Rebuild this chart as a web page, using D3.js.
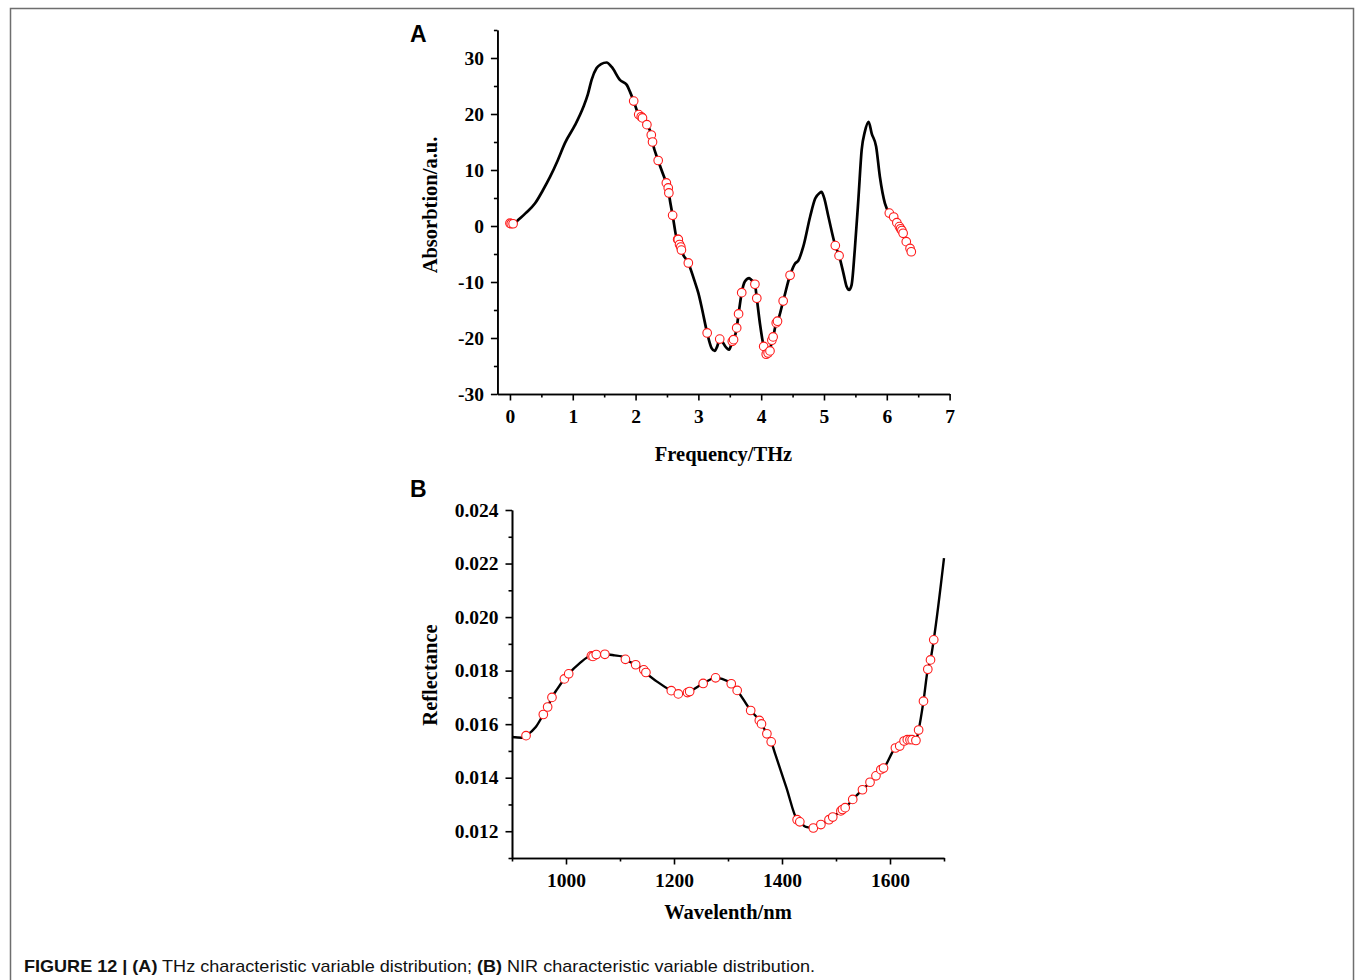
<!DOCTYPE html>
<html>
<head>
<meta charset="utf-8">
<script src="https://cdn.jsdelivr.net/npm/d3@7"></script>
<style>
  body { margin: 0; background: #fff; }
  svg { display: block; }
  .tick text { font-family: "Liberation Serif", "Times New Roman", serif; font-weight: bold; font-size: 19.5px; fill: #000; }
  .domain, .tick line { stroke: #000; stroke-width: 1.6px; }
  .title { font-family: "Liberation Serif", "Times New Roman", serif; font-weight: bold; font-size: 20.5px; }
  .letter { font-family: "Liberation Sans", Arial, sans-serif; font-weight: bold; font-size: 23px; }
</style>
</head>
<body>
<script>
// THz curve (A), without the selected points
var thzFreq = [0.06, 0.13, 0.25, 0.40, 0.52, 0.64, 0.76, 0.875, 1.035, 1.17, 1.24, 1.30, 1.38, 1.45, 1.54, 1.62, 1.75, 1.86, 1.91,
  2.95, 3.0, 3.06, 3.21, 3.26, 3.30, 3.45, 3.49, 3.74, 3.81, 3.84, 3.98,
  4.54, 4.59, 4.67, 4.78, 4.86, 4.93, 4.96, 5.0, 5.07, 5.31, 5.36, 5.40, 5.44, 5.49, 5.55, 5.60, 5.65, 5.71, 5.76, 5.83, 5.89, 5.97, 6.40];
var thzAbs = [0.35, 1.07, 2.3, 4.05, 6.3, 8.8, 11.7, 14.8, 18.0, 21.3, 23.5, 26.1, 28.2, 28.9, 29.2, 28.4, 26.1, 25.2, 24.0,
  -10.2, -12.0, -14.9, -21.8, -22.3, -21.5, -21.8, -22.1, -9.9, -9.3, -9.6, -17.4,
  -6.7, -6.2, -3.7, 1.7, 4.9, 5.9, 6.1, 5.1, 1.7, -8.45, -10.8, -11.4, -10.5, -4.3, 5.2, 13.6, 16.8, 18.6, 16.5, 14.2, 8.8, 4.05, -4.8];

// THz characteristic variables (red circles)
var thzSelFreq = [0.00, 0.02, 0.05, 1.97, 2.05, 2.09, 2.11, 2.18, 2.25, 2.27, 2.36, 2.49, 2.52, 2.53, 2.59, 2.67, 2.68, 2.70, 2.72, 2.73, 2.84,
  3.14, 3.34, 3.54, 3.56, 3.61, 3.64, 3.69, 3.90, 3.93, 4.04, 4.08, 4.11, 4.14, 4.17, 4.19, 4.24, 4.26, 4.35, 4.46,
  5.18, 5.24, 6.04, 6.11, 6.16, 6.20, 6.22, 6.24, 6.26, 6.31, 6.37, 6.39];
var thzSelAbs = [0.5, 0.4, 0.4, 22.3, 19.9, 19.5, 19.3, 18.1, 16.25, 15.0, 11.7, 7.7, 6.8, 5.9, 1.9, -2.4, -2.4, -3.3, -3.75, -4.3, -6.6,
  -19.1, -20.2, -20.6, -20.3, -18.2, -15.7, -11.9, -10.4, -12.9, -21.5, -22.9, -22.7, -22.3, -20.4, -19.8, -17.3, -17.0, -13.4, -8.8,
  -3.5, -5.3, 2.3, 1.6, 0.6, -0.1, -0.5, -0.8, -1.3, -2.8, -4.0, -4.6];

// NIR curve (B)
var nirWave = [900, 918, 944, 984, 1024, 1090, 1103, 1170, 1289, 1388, 1408, 1444, 1700];
var nirRefl = [0.01552, 0.01549, 0.01589, 0.01732, 0.01825, 0.01857, 0.01853, 0.01757, 0.01769, 0.01485, 0.01364, 0.01216, 0.0222];

// NIR characteristic variables
var nirSelWave = [926, 958, 966, 974, 997, 1005, 1047, 1050, 1056, 1072, 1110, 1129, 1144, 1148, 1195, 1208, 1225, 1229, 1254, 1277,
  1306, 1317, 1342, 1358, 1362, 1372, 1380, 1428, 1433, 1458, 1472, 1487, 1494, 1509, 1512, 1517, 1531, 1549, 1563, 1574,
  1583, 1588, 1610, 1618, 1626, 1632, 1637, 1641, 1648, 1653, 1662, 1670, 1675, 1681];
var nirSelRefl = [0.01557, 0.01636, 0.01664, 0.0170, 0.01769, 0.01788, 0.01855, 0.01853, 0.0186, 0.01861, 0.01842, 0.01822, 0.01803, 0.01793,
  0.01725, 0.01713, 0.01718, 0.01722, 0.01752, 0.01773, 0.01751, 0.01726, 0.01651, 0.01614, 0.01601, 0.01564, 0.01534,
  0.01243, 0.01235, 0.01212, 0.01225, 0.01243, 0.01253, 0.01276, 0.01281, 0.01288, 0.01319, 0.01355, 0.01383, 0.01407,
  0.0143, 0.01436, 0.01511, 0.01518, 0.01537, 0.01542, 0.01542, 0.01542, 0.01539, 0.01578, 0.01686, 0.01805, 0.0184, 0.01915];

var thzMajor = [0, 1, 2, 3, 4, 5, 6, 7], thzMinor = [0.5, 1.5, 2.5, 3.5, 4.5, 5.5, 6.5];
var absMajor = [-30, -20, -10, 0, 10, 20, 30], absMinor = [-25, -15, -5, 5, 15, 25, 35];
var nirMajor = [1000, 1200, 1400, 1600], nirMinor = [900, 1100, 1300, 1500, 1700];
var reflMajor = [0.012, 0.014, 0.016, 0.018, 0.020, 0.022, 0.024];
var reflMinor = [0.011, 0.013, 0.015, 0.017, 0.019, 0.021, 0.023];

var svg = d3.select("body").append("svg")
    .attr("width", 1355)
    .attr("height", 980);

// figure frame
svg.append("rect")
    .attr("x", 10.5).attr("y", 8.5)
    .attr("width", 1343).attr("height", 990)
    .attr("fill", "none")
    .attr("stroke", "#6e6e6e")
    .attr("stroke-width", 1.5);

function zip(xs, ys) {
    return xs.map(function(x, i) { return {x: x, y: ys[i]}; });
}

// plain hyphen for negatives, like the original
function intFmt(d) { return String(d); }
function refFmt(d) { return d.toFixed(3); }

function panel(o) {
    var x = d3.scaleLinear().domain(o.xDomain).range([o.left, o.right]);
    var y = d3.scaleLinear().domain(o.yDomain).range([o.bottom, o.top]);

    // minor ticks first, then the major axis on top
    svg.append("g").attr("transform", "translate(0," + o.bottom + ")")
        .call(d3.axisBottom(x).tickValues(o.xMinor).tickSize(3.5).tickSizeOuter(0).tickFormat(""));
    svg.append("g").attr("transform", "translate(" + o.left + ",0)")
        .call(d3.axisLeft(y).tickValues(o.yMinor).tickSize(3.5).tickSizeOuter(0).tickFormat(""));

    svg.append("g").attr("transform", "translate(0," + o.bottom + ")")
        .call(d3.axisBottom(x).tickValues(o.xMajor).tickSize(6.5).tickSizeOuter(0).tickPadding(9).tickFormat(o.xFormat));
    svg.append("g").attr("transform", "translate(" + o.left + ",0)")
        .call(d3.axisLeft(y).tickValues(o.yMajor).tickSize(6.5).tickSizeOuter(0).tickPadding(7).tickFormat(o.yFormat));

    // curve plus the selected points, sorted along x
    var pts = zip(o.cx, o.cy).concat(zip(o.sx, o.sy))
        .sort(function(a, b) { return a.x - b.x; });
    var line = d3.line()
        .x(function(d) { return x(d.x); })
        .y(function(d) { return y(d.y); })
        .curve(d3.curveMonotoneX);
    svg.append("path")
        .datum(pts)
        .attr("d", line)
        .attr("fill", "none")
        .attr("stroke", "#000")
        .attr("stroke-width", o.lw)
        .attr("stroke-linejoin", "round");

    svg.append("g").selectAll("circle")
        .data(zip(o.sx, o.sy))
        .enter()
        .append("circle")
        .attr("cx", function(d) { return x(d.x); })
        .attr("cy", function(d) { return y(d.y); })
        .attr("r", 4.3)
        .attr("fill", "#fff")
        .attr("stroke", "#ff1a1a")
        .attr("stroke-width", 1.1);

    svg.append("text").attr("class", "title")
        .attr("x", (o.left + o.right) / 2).attr("y", o.xTitleY)
        .attr("text-anchor", "middle")
        .text(o.xTitle);
    svg.append("text").attr("class", "title")
        .attr("transform", "translate(437," + o.yTitleY + ") rotate(-90)")
        .attr("text-anchor", "middle")
        .text(o.yTitle);
    svg.append("text").attr("class", "letter")
        .attr("x", 410).attr("y", o.letterY)
        .text(o.letter);
}

panel({
    xDomain: [-0.2, 7], yDomain: [-30, 35],
    left: 497.4, right: 949.6, top: 30, bottom: 394,
    xMajor: thzMajor, xMinor: thzMinor, yMajor: absMajor, yMinor: absMinor,
    xFormat: intFmt, yFormat: intFmt,
    cx: thzFreq, cy: thzAbs, sx: thzSelFreq, sy: thzSelAbs, lw: 2.7,
    xTitle: "Frequency/THz", xTitleY: 461, yTitle: "Absorbtion/a.u.", yTitleY: 205,
    letter: "A", letterY: 42
});

panel({
    xDomain: [900, 1700], yDomain: [0.011, 0.024],
    left: 512, right: 944, top: 510, bottom: 858,
    xMajor: nirMajor, xMinor: nirMinor, yMajor: reflMajor, yMinor: reflMinor,
    xFormat: intFmt, yFormat: refFmt,
    cx: nirWave, cy: nirRefl, sx: nirSelWave, sy: nirSelRefl, lw: 2.4,
    xTitle: "Wavelenth/nm", xTitleY: 919, yTitle: "Reflectance", yTitleY: 675,
    letter: "B", letterY: 497
});

// caption
var cap = svg.append("text")
    .attr("x", 24).attr("y", 971.5)
    .attr("textLength", 791)
    .attr("lengthAdjust", "spacingAndGlyphs")
    .style("font-family", "'Liberation Sans Narrow', 'Liberation Sans', Arial, sans-serif")
    .style("font-size", "17px")
    .attr("fill", "#111");
cap.append("tspan").attr("font-weight", "bold").text("FIGURE 12 | (A)");
cap.append("tspan").text(" THz characteristic variable distribution; ");
cap.append("tspan").attr("font-weight", "bold").text("(B)");
cap.append("tspan").text(" NIR characteristic variable distribution.");
</script>
</body>
</html>
